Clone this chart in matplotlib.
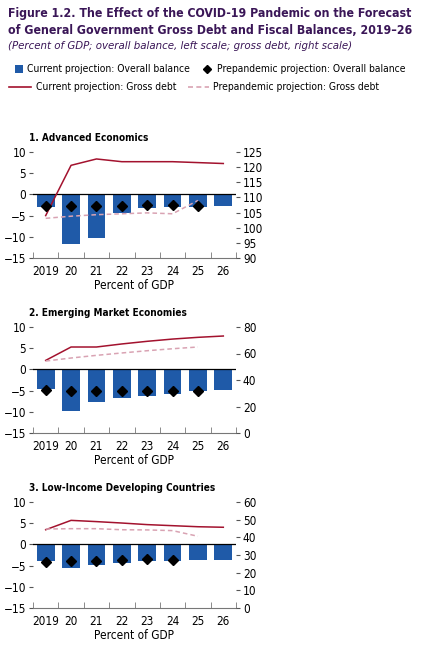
import matplotlib
matplotlib.use("Agg")
import matplotlib.pyplot as plt
import numpy as np
from matplotlib.lines import Line2D
from matplotlib.patches import Rectangle

plt.rcParams['font.family'] = ['DejaVu Sans']
plt.rcParams['font.stretch'] = 'condensed'

years = ["2019", "20", "21", "22", "23", "24", "25", "26"]

# 1. Advanced Economies
ae_balance = [-2.9, -11.6, -10.4, -4.4, -3.2, -3.0, -3.0, -2.8]
ae_balance_pre = [-2.8, -2.8, -2.8, -2.8, -2.6, -2.4, -2.7]
ae_debt = [104.0, 120.6, 122.7, 121.8, 121.8, 121.8, 121.5, 121.2]
ae_debt_pre = [103.1, 103.8, 104.3, 104.6, 104.9, 104.6, 109.0]

# 2. Emerging Market Economies
em_balance = [-4.7, -9.9, -7.7, -6.8, -6.2, -5.7, -5.2, -4.9]
em_balance_pre = [-4.9, -5.0, -5.0, -5.0, -5.0, -5.0, -5.0]
em_debt = [54.8, 64.9, 64.9, 67.2, 69.2, 70.9, 72.2, 73.2]
em_debt_pre = [54.3, 56.6, 58.6, 60.4, 62.1, 63.6, 64.9]

# 3. Low-Income Developing Countries
lidc_balance = [-3.8, -5.5, -4.9, -4.4, -3.9, -3.9, -3.6, -3.6]
lidc_balance_pre = [-4.2, -4.0, -4.0, -3.7, -3.5, -3.6]
lidc_debt = [44.3, 49.6, 48.9, 48.1, 47.2, 46.6, 46.0, 45.7]
lidc_debt_pre = [44.7, 44.9, 44.9, 44.3, 44.2, 43.8, 40.6]

panels = [
    ("1. Advanced Economics", ae_balance, ae_balance_pre, ae_debt, ae_debt_pre,
     (90, 125), np.arange(90, 126, 5)),
    ("2. Emerging Market Economies", em_balance, em_balance_pre, em_debt, em_debt_pre,
     (0, 80), np.arange(0, 81, 20)),
    ("3. Low-Income Developing Countries", lidc_balance, lidc_balance_pre, lidc_debt, lidc_debt_pre,
     (0, 60), np.arange(0, 61, 10)),
]

bar_color = "#1f5aa8"
debt_color = "#a3122e"
pre_color = "#d9a3b3"
title_color = "#3a1657"

W, H = 422, 657
fig = plt.figure(figsize=(W / 100, H / 100), dpi=100)


def fx(px):
    return px / W


def fy(py):
    return 1 - py / H


fig.text(fx(8), fy(13), "Figure 1.2. The Effect of the COVID-19 Pandemic on the Forecast",
         fontsize=8.8, fontweight="bold", color=title_color, va="center")
fig.text(fx(8), fy(31), "of General Government Gross Debt and Fiscal Balances, 2019\u201326",
         fontsize=8.8, fontweight="bold", color=title_color, va="center")
fig.text(fx(8), fy(46), "(Percent of GDP; overall balance, left scale; gross debt, right scale)",
         fontsize=8.2, style="italic", color=title_color, va="center")

# legend, laid out by hand like the original
fig.add_artist(Rectangle((fx(15), fy(73)), 8 / W, 8 / H, transform=fig.transFigure,
                         facecolor=bar_color, edgecolor="none"))
fig.text(fx(27), fy(69), "Current projection: Overall balance", fontsize=7.4, va="center")
fig.add_artist(Line2D([fx(207)], [fy(69)], marker="D", color="black", markersize=4.5,
                      transform=fig.transFigure))
fig.text(fx(217), fy(69), "Prepandemic projection: Overall balance", fontsize=7.4, va="center")
fig.add_artist(Line2D([fx(9), fx(31)], [fy(87), fy(87)], color=debt_color, lw=1.2,
                      transform=fig.transFigure))
fig.text(fx(36), fy(87), "Current projection: Gross debt", fontsize=7.4, va="center")
fig.add_artist(Line2D([fx(188), fx(209)], [fy(87), fy(87)], color=pre_color, lw=1.2,
                      linestyle=(0, (3, 2)), transform=fig.transFigure))
fig.text(fx(213), fy(87), "Prepandemic projection: Gross debt", fontsize=7.4, va="center")

x = np.arange(len(years))
bottoms = [258, 433, 608]
for (title, bal, bal_pre, debt, debt_pre, rlim, rticks), b in zip(panels, bottoms):
    ax = fig.add_axes([fx(33), fy(b), 203 / W, 106 / H])
    ax.bar(x, bal, width=0.7, color=bar_color, zorder=2)
    ax.axhline(0, color="black", lw=0.9, zorder=3)
    ax.set_xlim(-0.5, len(years) - 0.5)
    ax.set_ylim(-15, 10)
    ax.set_yticks([-15, -10, -5, 0, 5, 10])
    ax.set_yticklabels(["\u221215", "\u221210", "\u22125", "0", "5", "10"])
    ax.set_xticks(x)
    ax.set_xticklabels(years)
    ax.set_xticks(np.arange(-0.5, len(years), 1), minor=True)
    ax.tick_params(axis="x", which="major", length=0, labelsize=8.5, pad=5)
    ax.tick_params(axis="x", which="minor", direction="in", length=4, color="#777777")
    ax.tick_params(axis="y", length=3, labelsize=8.5, pad=2, color="#555555")
    for s in ["top", "left", "right"]:
        ax.spines[s].set_visible(False)
    ax.spines["bottom"].set_color("#777777")
    ax.spines["bottom"].set_linewidth(0.8)
    ax.set_xlabel("Percent of GDP", fontsize=8.5, labelpad=1)
    ax.set_title(title, loc="left", fontsize=7.2, fontweight="bold", x=-0.02, pad=8)

    ax2 = ax.twinx()
    ax2.plot(x, debt, color=debt_color, lw=1.1, zorder=3)
    ax2.plot(x[:len(debt_pre)], debt_pre, color=pre_color, lw=1.1,
             linestyle=(0, (3, 2)), zorder=3)
    # diamonds use the left (balance) scale but sit above the debt lines
    ax2.plot(x[:len(bal_pre)], bal_pre, linestyle="none", marker="D", color="black",
             markersize=5, zorder=4, transform=ax.transData)
    ax2.set_ylim(*rlim)
    ax2.set_yticks(rticks)
    ax2.tick_params(axis="y", length=3, labelsize=8.5, pad=2, color="#555555")
    for s in ["top", "left", "right", "bottom"]:
        ax2.spines[s].set_visible(False)

fig.savefig("out.png", dpi=100)
